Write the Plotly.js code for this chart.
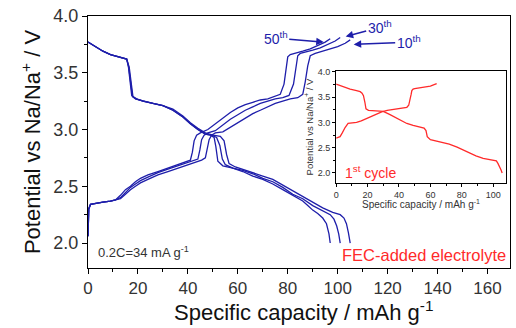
<!DOCTYPE html>
<html>
<head>
<meta charset="utf-8">
<script src="https://cdn.plot.ly/plotly-3.0.1.min.js"></script>
<style>
html,body{margin:0;padding:0;background:#fff;}
#chart{width:516px;height:328px;}
</style>
</head>
<body>
<div id="chart"></div>
<script>
// ---- Main plot: 10th, 30th, 50th cycles (blue) ----
const dis10X = [0, 3, 6, 9, 12, 14, 15.5, 16.5, 17.2, 18, 19.5, 22, 26, 30, 34, 38, 41, 44, 47, 50, 53, 54.5, 55.5, 56.5, 59, 62, 66, 70, 74, 78, 82, 86, 90, 94, 98, 101, 102.5, 103.5, 104.3, 105];
const dis10V = [3.77, 3.73, 3.69, 3.66, 3.64, 3.63, 3.62, 3.55, 3.40, 3.29, 3.27, 3.25, 3.23, 3.21, 3.18, 3.12, 3.06, 3.01, 2.97, 2.95, 2.94, 2.90, 2.78, 2.70, 2.67, 2.65, 2.62, 2.59, 2.56, 2.51, 2.46, 2.41, 2.36, 2.31, 2.27, 2.25, 2.22, 2.17, 2.09, 2.00];

const dis30X = [0, 3, 6, 9, 12, 14, 15.5, 16.3, 17, 17.8, 19.2, 22, 26, 30, 34, 38, 41, 44, 47, 49.5, 51.5, 52.8, 53.8, 55, 58, 62, 66, 70, 74, 78, 82, 86, 90, 94, 97, 98.5, 99.6, 100.4, 101];
const dis30V = [3.77, 3.73, 3.69, 3.66, 3.64, 3.63, 3.62, 3.55, 3.40, 3.29, 3.27, 3.25, 3.23, 3.21, 3.17, 3.11, 3.05, 3.00, 2.96, 2.95, 2.93, 2.86, 2.74, 2.69, 2.66, 2.64, 2.61, 2.57, 2.54, 2.49, 2.43, 2.39, 2.33, 2.28, 2.25, 2.21, 2.15, 2.08, 2.00];

const dis50X = [0, 3, 6, 9, 12, 14, 15.5, 16.2, 16.8, 17.5, 19, 22, 26, 30, 34, 38, 41, 44, 47, 49, 50.5, 51.2, 52, 54, 58, 62, 66, 70, 74, 78, 82, 86, 88, 90, 92, 94, 95.5, 96.5, 97];
const dis50V = [3.77, 3.73, 3.69, 3.66, 3.64, 3.63, 3.62, 3.55, 3.40, 3.30, 3.27, 3.25, 3.23, 3.21, 3.17, 3.11, 3.05, 3.00, 2.96, 2.95, 2.93, 2.85, 2.72, 2.68, 2.66, 2.63, 2.59, 2.56, 2.52, 2.47, 2.42, 2.37, 2.33, 2.29, 2.26, 2.22, 2.17, 2.08, 2.00];

const chg10X = [0, 0.3, 1, 3, 6, 9, 11, 13, 15, 17, 19, 21, 24, 28, 32, 36, 40, 43, 45.5, 47, 47.8, 48.5, 49.5, 51, 54, 57, 60, 63, 66, 69, 72, 75, 78, 81, 84, 86, 87, 88, 89, 91, 94, 97, 100, 103, 105];
const chg10V = [2.06, 2.30, 2.34, 2.35, 2.36, 2.37, 2.38, 2.39, 2.43, 2.47, 2.50, 2.53, 2.56, 2.60, 2.63, 2.66, 2.69, 2.71, 2.73, 2.75, 2.83, 2.91, 2.95, 2.97, 2.98, 3.02, 3.06, 3.10, 3.14, 3.17, 3.20, 3.23, 3.25, 3.27, 3.28, 3.31, 3.42, 3.56, 3.65, 3.67, 3.69, 3.71, 3.73, 3.76, 3.79];

const chg30X = [0, 0.3, 1, 3, 6, 9, 11, 13, 15, 17, 19, 21, 24, 28, 32, 36, 39, 42, 44, 44.8, 45.5, 46.5, 48, 51, 54, 57, 60, 63, 66, 69, 72, 75, 78, 80.5, 82.3, 83.2, 84, 85, 87, 90, 93, 96, 99, 101];
const chg30V = [2.06, 2.30, 2.34, 2.35, 2.36, 2.37, 2.38, 2.40, 2.45, 2.49, 2.52, 2.55, 2.58, 2.62, 2.65, 2.68, 2.70, 2.72, 2.74, 2.82, 2.91, 2.95, 2.97, 2.99, 3.04, 3.09, 3.13, 3.17, 3.20, 3.23, 3.25, 3.27, 3.28, 3.30, 3.40, 3.55, 3.65, 3.67, 3.68, 3.70, 3.72, 3.75, 3.78, 3.81];

const chg50X = [0, 0.3, 1, 3, 6, 9, 11, 13, 15, 17, 19, 21, 24, 28, 32, 36, 39, 41, 41.8, 42.5, 43.5, 45, 48, 51, 54, 57, 60, 63, 66, 69, 72, 75, 77, 78.5, 79.3, 80, 81, 83, 86, 89, 92, 95, 97];
const chg50V = [2.06, 2.30, 2.34, 2.35, 2.36, 2.37, 2.38, 2.42, 2.47, 2.50, 2.54, 2.57, 2.60, 2.63, 2.66, 2.69, 2.71, 2.73, 2.80, 2.90, 2.95, 2.97, 3.00, 3.05, 3.10, 3.15, 3.19, 3.22, 3.24, 3.26, 3.27, 3.29, 3.31, 3.40, 3.55, 3.64, 3.66, 3.67, 3.69, 3.71, 3.74, 3.77, 3.80];

// ---- Inset: 1st cycle (red) ----
const dis1X = [0, 4, 8.9, 13, 15.3, 16.5, 17.4, 18.3, 19, 20.6, 25, 30, 34, 38.6, 42, 45, 49, 53.5, 56, 57.2, 58, 60, 64, 68, 72, 77, 81, 85.4, 89, 93.6, 97, 100, 102, 103, 104.2, 105, 105.7];
const dis1V = [3.76, 3.71, 3.66, 3.63, 3.61, 3.58, 3.53, 3.40, 3.27, 3.24, 3.23, 3.22, 3.16, 3.08, 3.02, 2.98, 2.94, 2.91, 2.89, 2.84, 2.72, 2.66, 2.63, 2.61, 2.57, 2.51, 2.45, 2.39, 2.34, 2.29, 2.27, 2.26, 2.24, 2.19, 2.12, 2.06, 2.00];
const chg1X = [0, 1.5, 2.5, 4, 5.7, 7.6, 10, 13, 16, 19.5, 23, 26, 29, 32.5, 36, 38.6, 42, 45, 46.2, 47, 47.7, 48.2, 49, 50, 53, 55.7, 58, 60, 62, 64];
const chg1V = [2.69, 2.70, 2.72, 2.80, 2.90, 2.98, 2.99, 3.00, 3.03, 3.08, 3.13, 3.18, 3.21, 3.24, 3.26, 3.27, 3.28, 3.30, 3.34, 3.43, 3.55, 3.63, 3.66, 3.67, 3.68, 3.69, 3.71, 3.72, 3.74, 3.77];

// ---- Tick labels ----
const mainXTicks = [0, 20, 40, 60, 80, 100, 120, 140, 160];
const mainYTicks = [2.0, 2.5, 3.0, 3.5, 4.0];
const insetXTicks = [0, 20, 40, 60, 80, 100];
const insetYTicks = [2.0, 2.5, 3.0, 3.5, 4.0];

const BLUE = '#1e1eaa';
const RED = '#ff2a2a';
const FONT = 'Liberation Sans, Arial, sans-serif';

function blue(x, y, name) {
  return {x: x, y: y, name: name, type: 'scatter', mode: 'lines',
    line: {color: BLUE, width: 1.3}, xaxis: 'x', yaxis: 'y', showlegend: false};
}
function red(x, y, name) {
  return {x: x, y: y, name: name, type: 'scatter', mode: 'lines',
    line: {color: RED, width: 1.3}, xaxis: 'x2', yaxis: 'y2', showlegend: false};
}

const data = [
  blue(dis10X, dis10V, '10th discharge'),
  blue(dis30X, dis30V, '30th discharge'),
  blue(dis50X, dis50V, '50th discharge'),
  blue(chg10X, chg10V, '10th charge'),
  blue(chg30X, chg30V, '30th charge'),
  blue(chg50X, chg50V, '50th charge'),
  red(dis1X, dis1V, '1st discharge'),
  red(chg1X, chg1V, '1st charge')
];

const axisCommon = {showline: true, linecolor: '#000', linewidth: 1, mirror: true,
  showgrid: false, zeroline: false, ticks: 'outside', tickcolor: '#000'};

const layout = {
  width: 516, height: 328,
  margin: {l: 88, r: 6, t: 16, b: 60},
  paper_bgcolor: '#fff', plot_bgcolor: '#fff',
  font: {family: FONT, color: '#333'},
  showlegend: false,
  xaxis: Object.assign({}, axisCommon, {
    domain: [0, 1], range: [0, 169], tickmode: 'array', tickvals: mainXTicks,
    ticklen: 5, tickwidth: 1,
    minor: {dtick: 10, tick0: 0, ticks: 'outside', ticklen: 3, tickcolor: '#000'},
    tickfont: {size: 17, color: '#333', family: FONT}
  }),
  yaxis: Object.assign({}, axisCommon, {
    domain: [0, 1], range: [1.78, 4.0], tickmode: 'array', tickvals: mainYTicks,
    ticktext: mainYTicks.map(v => v.toFixed(1)),
    ticklen: 5, tickwidth: 1,
    minor: {dtick: 0.25, tick0: 2.0, ticks: 'outside', ticklen: 3, tickcolor: '#000'},
    tickfont: {size: 18, color: '#333', family: FONT},
    title: {text: 'Potential vs Na/Na<sup>+</sup> / V', font: {size: 22, color: '#111', family: FONT}, standoff: 6}
  }),
  xaxis2: Object.assign({}, axisCommon, {
    anchor: 'y2', domain: [0.588, 0.99], range: [0, 108], tickmode: 'array', tickvals: insetXTicks,
    ticklen: 3, tickwidth: 1,
    minor: {dtick: 10, tick0: 0, ticks: 'outside', ticklen: 2, tickcolor: '#000'},
    tickfont: {size: 9, color: '#333', family: FONT}
  }),
  yaxis2: Object.assign({}, axisCommon, {
    anchor: 'x2', domain: [0.337, 0.782], range: [1.8, 4.02], tickmode: 'array', tickvals: insetYTicks,
    ticktext: insetYTicks.map(v => v.toFixed(1)),
    ticklen: 3, tickwidth: 1,
    minor: {dtick: 0.25, tick0: 2.0, ticks: 'outside', ticklen: 2, tickcolor: '#000'},
    tickfont: {size: 9, color: '#333', family: FONT},
    title: {text: 'Potential vs Na/Na<sup>+</sup> / V', font: {size: 9.5, color: '#333', family: FONT}, standoff: 2}
  }),
  annotations: [
    // main x-axis title
    {xref: 'paper', yref: 'paper', x: 0.51, y: -0.172, xanchor: 'center', yanchor: 'middle', showarrow: false,
     text: 'Specific capacity / mAh g<sup>-1</sup>', font: {size: 22, color: '#111', family: FONT}},
    // inset x-axis title
    {xref: 'paper', yref: 'paper', x: 0.789, y: 0.252, xanchor: 'center', yanchor: 'middle', showarrow: false,
     text: 'Specific capacity / mAh g<sup>-1</sup>', font: {size: 10, color: '#333', family: FONT}},
    {xref: 'x', yref: 'y', x: 3.2, y: 1.92, xanchor: 'left', yanchor: 'middle', showarrow: false,
     text: '0.2C=34 mA g<sup>-1</sup>', font: {size: 13, color: '#333', family: FONT}},
    {xref: 'x', yref: 'y', x: 168.3, y: 1.895, xanchor: 'right', yanchor: 'middle', showarrow: false,
     text: 'FEC-added electrolyte', font: {size: 16.5, color: RED, family: FONT}},
    {xref: 'x2', yref: 'y2', x: 4.5, y: 2.02, xanchor: 'left', yanchor: 'middle', showarrow: false,
     text: '1<sup>st</sup> cycle', font: {size: 14, color: RED, family: FONT}},
    {xref: 'x', yref: 'y', x: 94.4, y: 3.77, ax: -48, ay: -4, showarrow: true,
     arrowhead: 2, arrowsize: 1, arrowwidth: 1.5, arrowcolor: BLUE,
     text: '50<sup>th</sup>', font: {size: 14, color: BLUE, family: FONT}},
    {xref: 'x', yref: 'y', x: 103.2, y: 3.82, ax: 34, ay: -9, showarrow: true,
     arrowhead: 2, arrowsize: 1, arrowwidth: 1.5, arrowcolor: BLUE,
     text: '30<sup>th</sup>', font: {size: 14, color: BLUE, family: FONT}},
    {xref: 'x', yref: 'y', x: 106.4, y: 3.75, ax: 55, ay: -2, showarrow: true,
     arrowhead: 2, arrowsize: 1, arrowwidth: 1.5, arrowcolor: BLUE,
     text: '10<sup>th</sup>', font: {size: 14, color: BLUE, family: FONT}}
  ]
};

Plotly.newPlot('chart', data, layout, {staticPlot: true, displayModeBar: false});
</script>
</body>
</html>
